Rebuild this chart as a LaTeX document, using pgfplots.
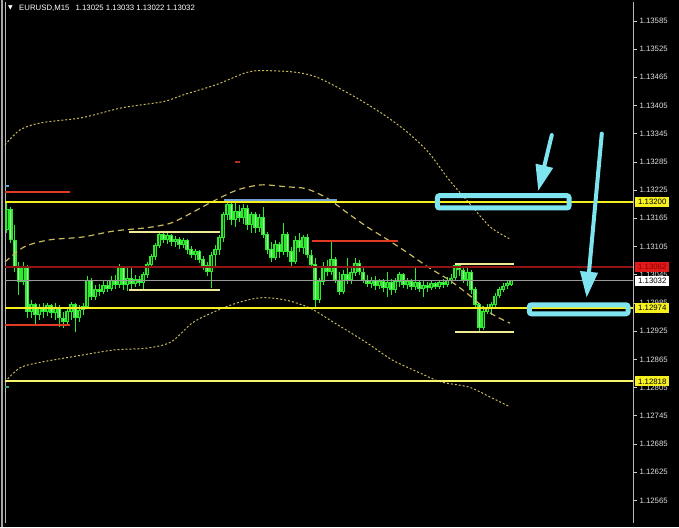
\documentclass[border=0pt]{standalone}
\usepackage{fontspec}
\setmainfont{Liberation Sans}
\newfontfamily\dejavu{DejaVu Sans}
\usepackage{pgfplots}
\pgfplotsset{compat=1.18}
\usepackage{pgfplotstable}
\usetikzlibrary{arrows.meta}
\definecolor{cgreen}{RGB}{45,235,45}
\definecolor{band}{RGB}{200,185,95}
\definecolor{hyellow}{RGB}{245,240,30}
\definecolor{lyellow}{RGB}{245,245,110}
\definecolor{pyellow}{RGB}{240,235,150}
\definecolor{dred}{RGB}{145,20,20}
\definecolor{ored}{RGB}{225,60,35}
\definecolor{lblue}{RGB}{110,160,215}
\definecolor{teal}{RGB}{60,160,130}
\definecolor{cyanbox}{RGB}{125,228,240}
\definecolor{lblred}{RGB}{225,25,25}

\pgfplotstableread{
i o h l c
0 1.13141 1.13202 1.13134 1.13183
1 1.13183 1.13190 1.13113 1.13119
2 1.13119 1.13151 1.13051 1.13060
3 1.13060 1.13072 1.13002 1.13030
4 1.13030 1.13072 1.13023 1.13060
5 1.13060 1.13066 1.12953 1.12966
6 1.12966 1.12992 1.12953 1.12981
7 1.12981 1.12985 1.12938 1.12960
8 1.12960 1.12983 1.12949 1.12974
9 1.12974 1.12985 1.12953 1.12966
10 1.12966 1.12985 1.12957 1.12979
11 1.12979 1.12983 1.12953 1.12964
12 1.12964 1.12985 1.12949 1.12974
13 1.12974 1.12981 1.12934 1.12953
14 1.12953 1.12966 1.12932 1.12945
15 1.12945 1.12974 1.12936 1.12966
16 1.12966 1.12987 1.12949 1.12981
17 1.12981 1.12985 1.12923 1.12953
18 1.12953 1.12981 1.12945 1.12970
19 1.12970 1.12985 1.12960 1.12977
20 1.12977 1.13043 1.12972 1.13034
21 1.13034 1.13038 1.12992 1.12998
22 1.12998 1.13023 1.12992 1.13013
23 1.13013 1.13026 1.13000 1.13009
24 1.13009 1.13034 1.13004 1.13023
25 1.13023 1.13032 1.13009 1.13015
26 1.13015 1.13043 1.13011 1.13034
27 1.13034 1.13045 1.13015 1.13023
28 1.13023 1.13068 1.13017 1.13060
29 1.13060 1.13064 1.13013 1.13023
30 1.13023 1.13060 1.13011 1.13038
31 1.13038 1.13060 1.13013 1.13026
32 1.13026 1.13045 1.13019 1.13036
33 1.13036 1.13043 1.13021 1.13028
34 1.13028 1.13051 1.13013 1.13045
35 1.13045 1.13072 1.13038 1.13066
36 1.13066 1.13090 1.13060 1.13083
37 1.13083 1.13113 1.13077 1.13107
38 1.13107 1.13136 1.13102 1.13130
39 1.13130 1.13136 1.13113 1.13119
40 1.13119 1.13136 1.13111 1.13128
41 1.13128 1.13132 1.13107 1.13115
42 1.13115 1.13128 1.13104 1.13121
43 1.13121 1.13126 1.13100 1.13109
44 1.13109 1.13124 1.13102 1.13117
45 1.13117 1.13121 1.13090 1.13098
46 1.13098 1.13107 1.13081 1.13087
47 1.13087 1.13100 1.13077 1.13094
48 1.13094 1.13098 1.13070 1.13077
49 1.13077 1.13085 1.13055 1.13064
50 1.13064 1.13072 1.13043 1.13051
51 1.13051 1.13094 1.13017 1.13087
52 1.13087 1.13109 1.13064 1.13098
53 1.13098 1.13130 1.13087 1.13124
54 1.13124 1.13179 1.13115 1.13173
55 1.13173 1.13205 1.13162 1.13194
56 1.13194 1.13202 1.13151 1.13162
57 1.13162 1.13198 1.13147 1.13179
58 1.13179 1.13194 1.13158 1.13166
59 1.13166 1.13196 1.13153 1.13187
60 1.13187 1.13194 1.13141 1.13151
61 1.13151 1.13179 1.13134 1.13173
62 1.13173 1.13179 1.13134 1.13145
63 1.13145 1.13175 1.13136 1.13166
64 1.13166 1.13190 1.13124 1.13130
65 1.13130 1.13136 1.13090 1.13098
66 1.13098 1.13115 1.13072 1.13081
67 1.13081 1.13119 1.13077 1.13109
68 1.13109 1.13115 1.13081 1.13094
69 1.13094 1.13156 1.13087 1.13130
70 1.13130 1.13136 1.13083 1.13094
71 1.13094 1.13104 1.13064 1.13072
72 1.13072 1.13128 1.13068 1.13119
73 1.13119 1.13134 1.13094 1.13102
74 1.13102 1.13130 1.13090 1.13124
75 1.13124 1.13132 1.13081 1.13087
76 1.13087 1.13098 1.13060 1.13066
77 1.13066 1.13081 1.12974 1.12992
78 1.12992 1.13038 1.12985 1.13030
79 1.13030 1.13072 1.13023 1.13060
80 1.13060 1.13077 1.13043 1.13051
81 1.13051 1.13115 1.13045 1.13077
82 1.13077 1.13083 1.13028 1.13034
83 1.13034 1.13051 1.13002 1.13009
84 1.13009 1.13055 1.13004 1.13045
85 1.13045 1.13081 1.13026 1.13034
86 1.13034 1.13060 1.13026 1.13049
87 1.13049 1.13081 1.13043 1.13070
88 1.13070 1.13077 1.13045 1.13051
89 1.13051 1.13060 1.13028 1.13034
90 1.13034 1.13045 1.13019 1.13026
91 1.13026 1.13041 1.13017 1.13034
92 1.13034 1.13043 1.13013 1.13021
93 1.13021 1.13036 1.13015 1.13030
94 1.13030 1.13036 1.13009 1.13017
95 1.13017 1.13051 1.12998 1.13028
96 1.13028 1.13036 1.13002 1.13013
97 1.13013 1.13038 1.13006 1.13030
98 1.13030 1.13051 1.13019 1.13045
99 1.13045 1.13049 1.13017 1.13023
100 1.13023 1.13038 1.13015 1.13030
101 1.13030 1.13036 1.13013 1.13019
102 1.13019 1.13060 1.13013 1.13028
103 1.13028 1.13034 1.13009 1.13015
104 1.13015 1.13032 1.12998 1.13023
105 1.13023 1.13030 1.13009 1.13017
106 1.13017 1.13032 1.13013 1.13026
107 1.13026 1.13030 1.13015 1.13019
108 1.13019 1.13034 1.13015 1.13028
109 1.13028 1.13036 1.13017 1.13023
110 1.13023 1.13041 1.13019 1.13034
111 1.13034 1.13047 1.13026 1.13038
112 1.13038 1.13068 1.13034 1.13064
113 1.13064 1.13068 1.13043 1.13055
114 1.13055 1.13064 1.13028 1.13034
115 1.13034 1.13060 1.13021 1.13051
116 1.13051 1.13055 1.13004 1.13013
117 1.13013 1.13019 1.12974 1.12981
118 1.12981 1.12985 1.12923 1.12932
119 1.12932 1.12979 1.12928 1.12966
120 1.12966 1.12983 1.12962 1.12974
121 1.12974 1.12987 1.12960 1.12981
122 1.12981 1.13006 1.12974 1.13000
123 1.13000 1.13019 1.12996 1.13013
124 1.13013 1.13028 1.13009 1.13021
125 1.13021 1.13032 1.13015 1.13026
126 1.13025 1.13033 1.13022 1.13032
}\candles

\pgfplotstableread{
x y
-0.5 1.13321
3.25 1.13353
8.5 1.13368
18.75 1.13379
28.75 1.13400
39 1.13413
44.25 1.13428
52.25 1.13449
59.5 1.13474
63.5 1.13479
71.75 1.13476
77.75 1.13464
87 1.13423
94.25 1.13385
100.25 1.13347
105.5 1.13304
110.5 1.13247
115.5 1.13198
120.75 1.13147
125.75 1.13121
}\upperband

\pgfplotstableread{
x y
-0.5 1.13072
4.25 1.13104
10.5 1.13119
18.75 1.13125
26.75 1.13138
35 1.13145
41 1.13155
46.25 1.13177
51.25 1.13200
57.5 1.13225
63.5 1.13236
69.75 1.13232
74.75 1.13228
80 1.13208
85 1.13177
90 1.13147
95.25 1.13119
100.25 1.13091
105.5 1.13060
110.5 1.13034
115.5 1.13002
120.75 1.12964
125.75 1.12942
}\midband

\pgfplotstableread{
x y
-0.5 1.12817
3.25 1.12847
8.5 1.12859
18.75 1.12874
26.75 1.12885
35 1.12889
41 1.12902
46.25 1.12942
51.25 1.12964
57.5 1.12985
63.5 1.12996
69.75 1.12991
75.75 1.12974
82 1.12942
90 1.12900
96.25 1.12864
103.25 1.12836
108.5 1.12817
115.5 1.12806
120.75 1.12785
125.75 1.12764
}\lowerband

\begin{document}
\begin{tikzpicture}
\fill[black] (0,0) rectangle (679pt,527pt);
\useasboundingbox (0,0) rectangle (679pt,527pt);
\draw[white!65!black, line width=2pt] (1.5pt,0) -- (1.5pt,527pt);
\begin{axis}[
  at={(5pt,4pt)}, anchor=south west,
  scale only axis, width=628pt, height=521pt,
  xmin=-0.5, xmax=156.5, ymin=1.12517, ymax=1.13625,
  xtick=\empty,
  ytick={1.12565,1.12625,1.12685,1.12745,1.12805,1.12865,1.12925,1.12985,1.13045,1.13105,1.13165,1.13225,1.13285,1.13345,1.13405,1.13465,1.13525,1.13585},
  yticklabels={1.12565,1.12625,1.12685,1.12745,1.12805,1.12865,1.12925,1.12985,1.13045,1.13105,1.13165,1.13225,1.13285,1.13345,1.13405,1.13465,1.13525,1.13585},
  ytick pos=right, yticklabel pos=right,
  tick align=outside, major tick length=4pt,
  tick style={white!80!black, line width=0.6pt},
  yticklabel style={font=\fontsize{7.8}{9}\selectfont, text=white!88!black, anchor=west, xshift=-1pt},
  separate axis lines,
  x axis line style={draw=none},
  y axis line style={white!72!black, line width=0.8pt},
  clip=false,
]
% wicks
\addplot[draw=none, mark=none, forget plot,
  error bars/.cd, y dir=plus, y explicit, error mark=none,
  error bar style={cgreen, line width=1pt}]
  table[x=i, y=l, y error expr=\thisrow{h}-\thisrow{l}] {\candles};
% body outlines
\addplot[draw=none, mark=none, forget plot,
  error bars/.cd, y dir=plus, y explicit, error mark=none,
  error bar style={cgreen, line width=3.3pt}]
  table[x=i, y expr={min(\thisrow{o},\thisrow{c})-0.000008}, y error expr={abs(\thisrow{c}-\thisrow{o})+0.000016}] {\candles};
% bear bodies (light fill)
\addplot[draw=none, mark=none, forget plot,
  x filter/.expression={(\thisrow{c}<\thisrow{o}) ? x : nan},
  error bars/.cd, y dir=plus, y explicit, error mark=none,
  error bar style={white!55!cgreen, line width=1pt}]
  table[x=i, y expr={min(\thisrow{o},\thisrow{c})+0.000013}, y error expr={max(abs(\thisrow{c}-\thisrow{o})-0.000026,0)}] {\candles};
% bull bodies (dark fill)
\addplot[draw=none, mark=none, forget plot,
  x filter/.expression={(\thisrow{c}>\thisrow{o}) ? x : nan},
  error bars/.cd, y dir=plus, y explicit, error mark=none,
  error bar style={black!70!cgreen, line width=0.8pt}]
  table[x=i, y expr={min(\thisrow{o},\thisrow{c})+0.000013}, y error expr={max(abs(\thisrow{c}-\thisrow{o})-0.000026,0)}] {\candles};
% bands
\addplot[band, line width=1pt, dash pattern=on 2pt off 2pt, smooth, tension=0.5] table[x=x,y=y] {\upperband};
\addplot[band, line width=1.2pt, dash pattern=on 6pt off 4pt, smooth, tension=0.5] table[x=x,y=y] {\midband};
\addplot[band, line width=1pt, dash pattern=on 2pt off 2pt, smooth, tension=0.5] table[x=x,y=y] {\lowerband};
% horizontal levels
\addplot[draw=white!60!black, line width=0.7pt] coordinates {(-0.5,1.13032) (156.5,1.13032)};
\addplot[draw=dred, line width=2pt] coordinates {(-0.5,1.13062) (156.5,1.13062)};
\addplot[draw=hyellow, line width=1.7pt] coordinates {(-0.5,1.13200) (156.5,1.13200)};
\addplot[draw=hyellow, line width=1.7pt] coordinates {(-0.5,1.12974) (156.5,1.12974)};
\addplot[draw=lyellow, line width=2pt] coordinates {(-0.5,1.12818) (156.5,1.12818)};
% short levels
\addplot[draw=ored, line width=2pt] coordinates {(-0.5,1.13221) (15.75,1.13221)};
\addplot[draw=ored, line width=2pt] coordinates {(-0.5,1.12938) (15.75,1.12938)};
\addplot[draw=pyellow, line width=2pt] coordinates {(30.5,1.13136) (53.25,1.13136)};
\addplot[draw=pyellow, line width=2pt] coordinates {(30.5,1.13013) (53.25,1.13013)};
\addplot[draw=lblue, line width=2pt] coordinates {(54.25,1.13204) (82.5,1.13204)};
\addplot[draw=ored, line width=2pt] coordinates {(76.25,1.13117) (97.75,1.13117)};
\addplot[draw=pyellow, line width=2pt] coordinates {(112,1.13068) (126.75,1.13068)};
\addplot[draw=pyellow, line width=2pt] coordinates {(112,1.12923) (126.75,1.12923)};
\addplot[draw=ored!80!black, line width=2pt] coordinates {(57,1.13285) (58.25,1.13285)};
\addplot[draw=lblue, line width=2pt] coordinates {(-0.5,1.13234) (0.5,1.13234)};
\addplot[draw=teal, line width=2pt] coordinates {(-0.5,1.12807) (0.5,1.12807)};
% annotations
\draw[cyanbox, line width=5pt, rounded corners=2pt] (axis cs:107.6,1.13213) rectangle (axis cs:140.5,1.13187);
\draw[cyanbox, line width=5pt, rounded corners=2pt] (axis cs:130.6,1.12981) rectangle (axis cs:155.25,1.12962);
\draw[cyanbox, line width=4pt, line cap=round, -{Triangle[width=17pt,length=26pt]}] (axis cs:136.2,1.13342) -- (axis cs:132.8,1.13223);
\draw[cyanbox, line width=4pt, line cap=round, -{Triangle[width=17pt,length=26pt]}] (axis cs:148.7,1.13345) -- (axis cs:144.9,1.12996);
% price labels
\tikzset{plab/.style={anchor=west, inner xsep=3pt, inner ysep=0pt, minimum height=10pt, font=\fontsize{7.8}{9}\selectfont}}
\node[plab, fill=hyellow, text=black] at (axis cs:157,1.13200) {1.13200};
\node[plab, fill=lblred, text=red!55!black] at (axis cs:157,1.13062) {1.13062};
\node[plab, fill=white, text=black] at (axis cs:157,1.13032) {1.13032};
\node[plab, fill=hyellow, text=black] at (axis cs:157,1.12974) {1.12974};
\node[plab, fill=hyellow, text=black] at (axis cs:157,1.12818) {1.12818};
\end{axis}
\node[text=white, inner sep=0pt] at (10.5pt,519.5pt) {\dejavu\fontsize{6}{6}\selectfont ▼};
\node[anchor=west, text=white, inner sep=0pt, font=\fontsize{7.8}{9}\selectfont] at (19pt,519pt) {EURUSD,M15\hspace{4pt} 1.13025 1.13033 1.13022 1.13032};
\end{tikzpicture}
\end{document}
